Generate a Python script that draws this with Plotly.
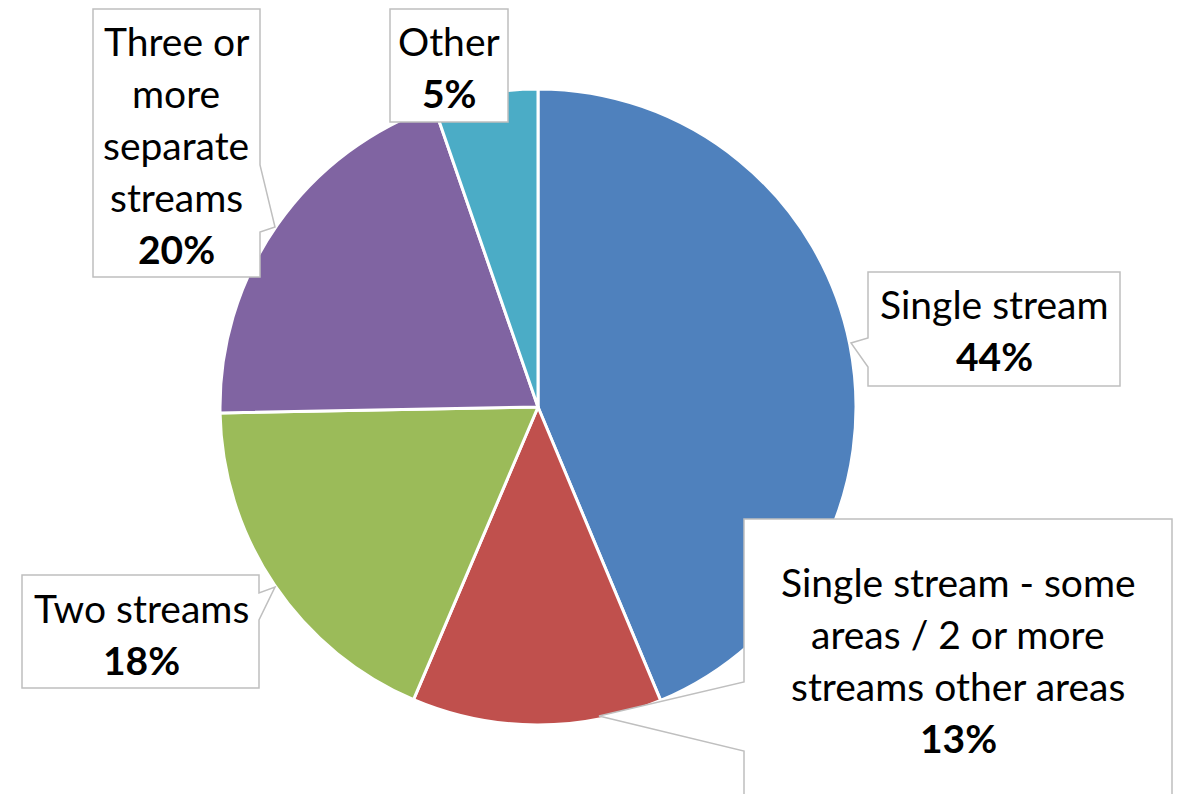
import plotly.graph_objects as go

# ---- data ----
categories = [
    "Single stream",
    "Single stream - some areas / 2 or more streams other areas",
    "Two streams",
    "Three or more separate streams",
    "Other",
]
values = [43.7, 12.7, 18.3, 20.0, 5.3]
colors = ["#4F81BD", "#C0504D", "#9BBB59", "#8064A2", "#4BACC6"]

# label wrapping (text layout only)
label_lines = [
    ["Single stream"],
    ["Single stream - some", "areas / 2 or more", "streams other areas"],
    ["Two streams"],
    ["Three or", "more", "separate", "streams"],
    ["Other"],
]

W, H = 1178, 794
total = sum(values)
pct = [round(v / total * 100) for v in values]

fig = go.Figure()

# pie placed by domain (pixel centre 538,407 radius 318)
cx, cy, r = 538, 407, 318
fig.add_trace(go.Pie(
    labels=categories,
    values=values,
    sort=False,
    direction="clockwise",
    rotation=0,
    marker=dict(colors=colors, line=dict(color="white", width=3)),
    textinfo="none",
    hoverinfo="label+percent",
    showlegend=False,
    domain=dict(x=[(cx - r) / W, (cx + r) / W], y=[1 - (cy + r) / H, 1 - (cy - r) / H]),
))

# invisible pixel-space axes for callouts
fig.add_trace(go.Scatter(x=[0, W], y=[0, H], mode="markers",
                         marker=dict(opacity=0), hoverinfo="skip", showlegend=False))

# callout shapes (pixel paths)
callouts = [
    # Single stream
    "M868,272 L1120,272 L1120,386 L868,386 L868,367 L851,343 L868,338 Z",
    # Single stream - some areas
    "M744,519 L1172,519 L1172,820 L744,820 L744,751 L599,716 L744,682 Z",
    # Two streams
    "M22,575 L259,575 L259,593 L275,587 L259,620 L259,688 L22,688 Z",
    # Three or more
    "M93,9 L260,9 L260,165 L275,227 L260,232 L260,277 L93,277 Z",
    # Other
    "M390,9 L508,9 L508,122 L390,122 Z",
]
for p in callouts:
    fig.add_shape(type="path", path=p, xref="x", yref="y", layer="above",
                  fillcolor="white", line=dict(color="#BFBFBF", width=1.5))

# text centres (x) and first line centre (y)
text_pos = [
    (994, 304),
    (958, 582),
    (141, 608),
    (176, 41),
    (449, 41),
]
line_gap = 52
font = dict(family="Lato, Noto Sans, sans-serif", size=39, color="black")
for lines, p, (tx, ty) in zip(label_lines, pct, text_pos):
    all_lines = lines + [f"<b>{p}%</b>"]
    for i, t in enumerate(all_lines):
        fig.add_annotation(x=tx, y=ty + i * line_gap, xref="x", yref="y",
                           text=t, showarrow=False, font=font,
                           xanchor="center", yanchor="middle")

fig.update_layout(
    width=W, height=H,
    margin=dict(l=0, r=0, t=0, b=0),
    paper_bgcolor="white", plot_bgcolor="white",
    xaxis=dict(range=[0, W], visible=False, fixedrange=True),
    yaxis=dict(range=[H, 0], visible=False, fixedrange=True),
)

fig.write_html("out.html", config={"displayModeBar": False},
               post_script="document.body.style.margin='0';")
